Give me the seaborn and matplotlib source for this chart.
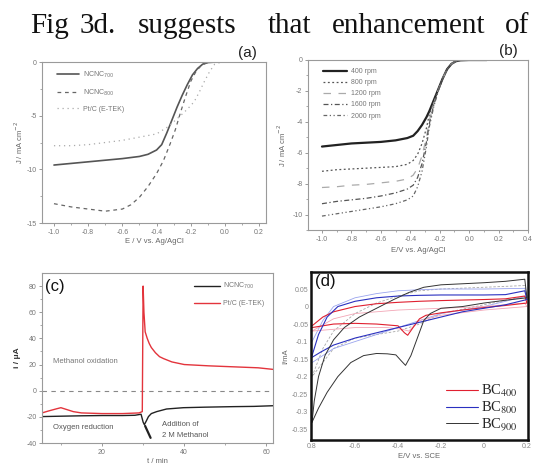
import matplotlib
matplotlib.use("Agg")
import matplotlib.pyplot as plt
import seaborn as sns
import numpy as np

sns.set_theme(style="white")
plt.rcParams['font.family'] = ['Liberation Sans', 'DejaVu Sans']
plt.rcParams['axes.unicode_minus'] = False
plt.rcParams['mathtext.fontset'] = 'dejavusans'

# ---------------- data ----------------
title_words = ["Fig", "3d.", "suggests", "that", "enhancement", "of"]

# (a) LSV curves
a_x_700 = [-1.0, -0.9, -0.8, -0.7, -0.6, -0.5, -0.45, -0.40, -0.37, -0.34, -0.31, -0.28, -0.25, -0.22, -0.19, -0.16, -0.13, -0.10, -0.05, 0.0, 0.1, 0.2]
a_y_700 = [-9.6, -9.45, -9.3, -9.15, -9.0, -8.8, -8.6, -8.2, -7.7, -6.6, -5.4, -4.2, -3.1, -2.1, -1.2, -0.6, -0.2, -0.05, 0.0, 0.0, 0.0, 0.0]
a_x_800 = [-1.0, -0.9, -0.8, -0.7, -0.6, -0.55, -0.5, -0.45, -0.4, -0.36, -0.32, -0.29, -0.26, -0.23, -0.2, -0.17, -0.14, -0.11, -0.08, 0.0, 0.1, 0.2]
a_y_800 = [-13.2, -13.5, -13.7, -13.9, -13.7, -13.3, -12.6, -11.6, -10.4, -9.2, -7.6, -6.3, -4.7, -3.2, -1.8, -0.9, -0.35, -0.1, -0.02, 0, 0, 0]
a_x_pt = [-1.0, -0.9, -0.8, -0.7, -0.6, -0.5, -0.4, -0.33, -0.26, -0.22, -0.18, -0.15, -0.12, -0.09, -0.06, -0.03, 0.0, 0.1, 0.2]
a_y_pt = [-7.8, -7.8, -7.7, -7.5, -7.3, -7.0, -6.7, -6.0, -5.0, -4.4, -3.7, -2.8, -1.8, -0.9, -0.2, -0.05, 0, 0, 0]
a_labels = [r"NCNC$_{700}$", r"NCNC$_{800}$", "Pt/C (E-TEK)"]

# (b) rotation-rate curves
b_x = [-1.0, -0.9, -0.8, -0.7, -0.6, -0.5, -0.42, -0.38, -0.35, -0.32, -0.29, -0.27, -0.24, -0.21, -0.18, -0.15, -0.12, -0.09, -0.06, 0.0, 0.12]
b_y_400 = [-5.6, -5.5, -5.4, -5.35, -5.3, -5.2, -5.05, -4.9, -4.6, -4.2, -3.7, -3.3, -2.6, -1.9, -1.2, -0.6, -0.25, -0.08, -0.02, 0.0, 0.0]
b_y_800 = [-7.2, -7.1, -7.05, -7.0, -6.95, -6.9, -6.75, -6.5, -6.1, -5.4, -4.4, -3.5, -2.7, -1.9, -1.2, -0.6, -0.25, -0.08, -0.02, 0.0, 0.0]
b_y_1200 = [-8.25, -8.2, -8.1, -8.05, -7.95, -7.85, -7.7, -7.45, -7.0, -6.2, -5.0, -3.9, -2.8, -1.95, -1.2, -0.6, -0.25, -0.08, -0.02, 0.0, 0.0]
b_y_1600 = [-9.3, -9.15, -9.05, -8.95, -8.8, -8.6, -8.35, -8.1, -7.6, -6.7, -5.3, -4.1, -2.9, -2.0, -1.2, -0.6, -0.25, -0.08, -0.02, 0.0, 0.0]
b_y_2000 = [-10.1, -9.95, -9.8, -9.65, -9.5, -9.3, -9.05, -8.8, -8.2, -7.2, -5.6, -4.3, -3.0, -2.0, -1.2, -0.6, -0.25, -0.08, -0.02, 0.0, 0.0]
b_labels = ["400 rpm", "800 rpm", "1200 rpm", "1600 rpm", "2000 rpm"]

# (c) chronoamperometry
c_t_pt = [5.4, 7, 9, 10, 11, 13, 15, 20, 25, 29, 29.8, 30.0, 30.2, 30.5, 31, 31.5, 32, 33, 34, 35, 37, 40, 43, 46, 50, 54, 58, 61.6]
c_i_pt = [-17, -15.5, -13.8, -13, -14, -16, -17, -17.5, -17.5, -17, -16, 80, 60, 45, 40, 36, 33, 29, 26, 24.5, 22, 20, 19.5, 19, 18.5, 18, 17.5, 16.3]
c_t_nc = [5.4, 10, 15, 20, 25, 28, 29.5, 30.0, 30.3, 30.8, 31.3, 32, 33.3, 35.7, 39.8, 45, 51.9, 57, 61.6]
c_i_nc = [-19.8, -19.5, -19.2, -19, -19, -18.8, -18, -24, -26, -23, -19.8, -17.5, -16, -14, -13, -12.6, -12.2, -12, -11.5]
c_labels = [r"NCNC$_{700}$", "Pt/C (E-TEK)"]

# (d) cyclic voltammograms (forward branch then reverse branch)
d_x_900 = [-0.8, -0.79, -0.77, -0.74, -0.70, -0.65, -0.58, -0.50, -0.42, -0.35, -0.28, -0.20, -0.10, 0.00, 0.10, 0.19,
           0.2, 0.1, 0.0, -0.1, -0.2, -0.25, -0.28, -0.31, -0.34, -0.365, -0.385, -0.41, -0.45, -0.5, -0.56, -0.62, -0.68, -0.73, -0.77, -0.8]
d_y_900 = [-0.33, -0.27, -0.20, -0.14, -0.095, -0.06, -0.03, -0.005, 0.02, 0.04, 0.055, 0.062, 0.065, 0.068, 0.072, 0.078,
           0.025, 0.018, 0.01, 0.0, -0.005, -0.02, -0.04, -0.09, -0.14, -0.168, -0.155, -0.138, -0.135, -0.134, -0.14, -0.16, -0.2, -0.245, -0.29, -0.33]
d_x_900b = [-0.8, -0.75, -0.7, -0.6, -0.5, -0.4, -0.3, -0.2, 0.0, 0.19, 0.2, 0.0, -0.2, -0.3, -0.4, -0.5, -0.6, -0.7, -0.8]
d_y_900b = [-0.2, -0.12, -0.07, -0.02, 0.01, 0.03, 0.045, 0.05, 0.055, 0.06, 0.03, 0.005, -0.02, -0.05, -0.07, -0.08, -0.09, -0.12, -0.2]
d_x_400 = [-0.8, -0.75, -0.7, -0.6, -0.5, -0.4, -0.3, -0.2, 0.0, 0.1, 0.19,
           0.2, 0.1, 0.0, -0.1, -0.2, -0.27, -0.3, -0.33, -0.355, -0.37, -0.4, -0.5, -0.6, -0.7, -0.8]
d_y_400 = [-0.055, -0.03, -0.015, 0.0, 0.008, 0.012, 0.015, 0.017, 0.02, 0.022, 0.03,
           0.01, 0.003, -0.003, -0.01, -0.018, -0.025, -0.035, -0.06, -0.082, -0.075, -0.055, -0.05, -0.048, -0.05, -0.06]
d_x_400b = [-0.8, -0.7, -0.6, -0.4, -0.2, 0.0, 0.19, 0.2, 0.0, -0.2, -0.3, -0.35, -0.38, -0.45, -0.6, -0.8]
d_y_400b = [-0.07, -0.035, -0.02, -0.01, -0.005, 0.0, 0.01, 0.0, -0.01, -0.025, -0.04, -0.07, -0.065, -0.06, -0.06, -0.07]
d_x_800 = [-0.8, -0.77, -0.73, -0.68, -0.6, -0.5, -0.4, -0.3, -0.2, 0.0, 0.1, 0.19,
           0.2, 0.1, 0.0, -0.1, -0.2, -0.3, -0.4, -0.5, -0.6, -0.7, -0.76, -0.8]
d_y_800 = [-0.14, -0.08, -0.03, 0.0, 0.015, 0.025, 0.03, 0.032, 0.033, 0.033, 0.034, 0.045,
           0.02, 0.005, -0.005, -0.015, -0.03, -0.045, -0.06, -0.075, -0.09, -0.11, -0.13, -0.145]
d_x_800b = [-0.8, -0.75, -0.7, -0.6, -0.5, -0.4, -0.3, -0.2, 0.0, 0.19, 0.2, 0.0, -0.2, -0.3, -0.4, -0.5, -0.6, -0.7, -0.8]
d_y_800b = [-0.1, -0.04, 0.0, 0.025, 0.037, 0.045, 0.048, 0.05, 0.05, 0.052, 0.03, 0.0, -0.02, -0.04, -0.06, -0.08, -0.1, -0.12, -0.16]
d_labels = [r"BC$_{400}$", r"BC$_{800}$", r"BC$_{900}$"]
d_xtick_vals = [-0.8, -0.6, -0.4, -0.2, 0.0, 0.2]
d_xtick_labels = ["0.8", "-0.6", "-0.4", "-0.2", "0", "0.2"]
d_ytick_vals = [0.05, 0, -0.05, -0.1, -0.15, -0.2, -0.25, -0.3, -0.35]

# ---------------- figure ----------------
W, H = 536, 467
fig = plt.figure(figsize=(W / 100, H / 100), dpi=100)


def ax_at(x0, y0, x1, y1):
    return fig.add_axes([x0 / W, 1 - y1 / H, (x1 - x0) / W, (y1 - y0) / H])


TXT = '#666666'


def style_light(ax):
    for s in ax.spines.values():
        s.set_color('#9a9a9a')
        s.set_linewidth(0.8)
    ax.tick_params(which='major', direction='out', length=2.5, width=0.7, color='#9a9a9a',
                   labelsize=5, labelcolor='#777777', pad=1.5, left=True, bottom=True)
    ax.tick_params(which='minor', direction='out', length=1.3, width=0.6, color='#9a9a9a', left=True, bottom=True)


def line(ax, x, y, **kw):
    sns.lineplot(x=x, y=y, ax=ax, estimator=None, sort=False, **kw)
    return ax.lines[-1]


# title words
word_x = [30, 80, 138, 268, 332, 505]
for w, xp in zip(title_words, word_x):
    fig.text(xp / W, 1 - 33 / H, w, fontsize=21, family='Liberation Serif', color='#111111',
             ha='left', va='baseline')

# ---- (a)
axA = ax_at(42, 62, 266, 223)
hA = [line(axA, a_x_700, a_y_700, color='#555555', lw=1.2),
      line(axA, a_x_800, a_y_800, color='#666666', lw=0.9, linestyle=(0, (3, 3))),
      line(axA, a_x_pt, a_y_pt, color='#aaaaaa', lw=0.9, linestyle=(0, (1, 3)))]
axA.set_xlim(-1.07, 0.24)
axA.set_ylim(-15, 0)
axA.set_xticks([-1.0, -0.8, -0.6, -0.4, -0.2, 0.0, 0.2])
axA.set_yticks([0, -5, -10, -15])
axA.set_xticks(np.arange(-1.0, 0.25, 0.1), minor=True)
axA.set_yticks(np.arange(-15, 0.1, 2.5), minor=True)
axA.xaxis.set_major_formatter(matplotlib.ticker.FormatStrFormatter('%.1f'))
style_light(axA)
axA.set_xlabel("E / V vs. Ag/AgCl", fontsize=5.5, color=TXT, labelpad=2)
axA.set_ylabel("J / mA cm$^{-2}$", fontsize=5.5, color=TXT, labelpad=1)
axA.legend(hA, a_labels, loc='upper left', bbox_to_anchor=(0.04, 0.99), frameon=False,
           fontsize=5, labelcolor='#777777', handlelength=3.2, labelspacing=1.1, handletextpad=0.5)
fig.text(247 / W, 1 - 60 / H, "(a)", fontsize=11, ha='center', va='bottom', color='#222222')

# ---- (b)
axB = ax_at(308, 60, 528, 230)
hB = [line(axB, b_x, b_y_400, color='#222222', lw=1.6),
      line(axB, b_x, b_y_800, color='#555555', lw=0.9, linestyle=(0, (1.5, 2))),
      line(axB, b_x, b_y_1200, color='#aaaaaa', lw=0.9, linestyle=(0, (6, 6))),
      line(axB, b_x, b_y_1600, color='#555555', lw=0.9, linestyle=(0, (4, 2, 1, 2))),
      line(axB, b_x, b_y_2000, color='#666666', lw=0.9, linestyle=(0, (3, 2, 1, 2, 1, 2)))]
axB.set_xlim(-1.095, 0.4)
axB.set_ylim(-11, 0)
axB.set_xticks([-1.0, -0.8, -0.6, -0.4, -0.2, 0.0, 0.2, 0.4])
axB.set_xticks(np.arange(-1.0, 0.45, 0.1), minor=True)
axB.set_yticks([0, -2, -4, -6, -8, -10])
axB.set_yticks(np.arange(-11, 0.1, 1), minor=True)
axB.xaxis.set_major_formatter(matplotlib.ticker.FormatStrFormatter('%.1f'))
style_light(axB)
axB.set_xlabel("E/V vs. Ag/AgCl", fontsize=5.5, color=TXT, labelpad=3)
axB.set_ylabel("J / mA cm$^{-2}$", fontsize=5.5, color=TXT, labelpad=3)
axB.legend(hB, b_labels, loc='upper left', bbox_to_anchor=(0.04, 0.99), frameon=False,
           fontsize=5, labelcolor='#777777', handlelength=3.4, labelspacing=0.6, handletextpad=0.6)
fig.text(508 / W, 1 - 58 / H, "(b)", fontsize=11, ha='center', va='bottom', color='#222222')

# ---- (c)
axC = ax_at(42, 273, 273, 443)
axC.axhline(0, color='#888888', lw=0.8, linestyle=(0, (4, 4)))
hC = [line(axC, c_t_nc, c_i_nc, color='#222222', lw=1.0),
      line(axC, c_t_pt, c_i_pt, color='#e3343c', lw=1.0)]
axC.set_xlim(5.4, 61.6)
axC.set_ylim(-40, 90)
axC.set_xticks([20, 40, 60])
axC.set_xticks(np.arange(10, 61, 10), minor=True)
axC.set_yticks([-40, -20, 0, 20, 40, 60, 80])
axC.set_yticks(np.arange(-40, 81, 10), minor=True)
style_light(axC)
axC.set_xlabel("t / min", fontsize=5.5, color=TXT, labelpad=2)
axC.set_ylabel("i / μA", fontsize=6, color='#333333', labelpad=4, fontweight='bold')
axC.legend(hC, c_labels, loc='upper right', bbox_to_anchor=(0.99, 0.99), frameon=False,
           fontsize=5, labelcolor='#777777', handlelength=3.8, labelspacing=1.3, handletextpad=0.4)
axC.text(8.0, 22, "Methanol oxidation", fontsize=5.5, color='#777777', va='center')
axC.text(8.0, -28, "Oxygen reduction", fontsize=5.5, color='#555555', va='center')
axC.text(34.5, -25.5, "Addition of", fontsize=5.5, color='#555555', va='center')
axC.text(34.5, -34.5, "2 M Methanol", fontsize=5.5, color='#555555', va='center')
axC.annotate("", xy=(30.2, -25), xytext=(32.1, -38),
             arrowprops=dict(arrowstyle='-', lw=1.6, color='#222222'))
axC.text(6.2, 80, "(c)", fontsize=12, color='#111111', va='center', ha='left')

# ---- (d)
axD = ax_at(311, 272, 528, 440)
line(axD, d_x_900b, d_y_900b, color='#a8a8a8', lw=0.6, linestyle=(0, (3, 2)))
line(axD, d_x_800b, d_y_800b, color='#9aa4ee', lw=0.6)
line(axD, d_x_400b, d_y_400b, color='#f2a6b6', lw=0.6)
hD = [line(axD, d_x_400, d_y_400, color='#e02030', lw=0.8),
      line(axD, d_x_800, d_y_800, color='#2a30c0', lw=0.8),
      line(axD, d_x_900, d_y_900, color='#333333', lw=0.7)]
axD.set_xlim(-0.805, 0.205)
axD.set_ylim(-0.381, 0.0986)
axD.set_xticks(d_xtick_vals, d_xtick_labels)
axD.set_yticks(d_ytick_vals, ["%g" % v for v in d_ytick_vals])
for s in axD.spines.values():
    s.set_color('#111111')
    s.set_linewidth(1.8)
axD.tick_params(length=0, labelsize=5, labelcolor='#888888', pad=2)
axD.set_xlabel("E/V vs. SCE", fontsize=5.5, color=TXT, labelpad=2)
axD.set_ylabel("I/mA", fontsize=5.5, color=TXT, labelpad=2)
axD.legend(hD, d_labels, loc='lower right', bbox_to_anchor=(1.0, -0.02), frameon=False,
           prop={'family': 'Liberation Serif', 'size': 10.5, 'math_fontfamily': 'stix'},
           handlelength=2.2, labelspacing=0.05, handletextpad=0.2, borderpad=0.2)
axD.text(-0.785, 0.072, "(d)", fontsize=12, color='#111111', va='center', ha='left')

fig.savefig("out.png", dpi=100)
